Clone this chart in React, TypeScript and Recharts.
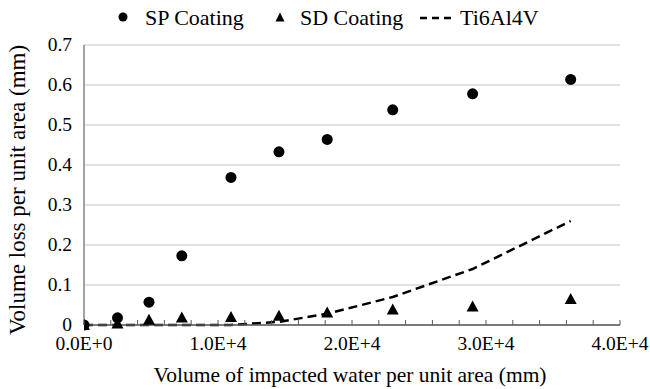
import React from 'react';
import { ComposedChart, Scatter, Line, XAxis, YAxis, CartesianGrid } from 'recharts';

const xValues = [0, 2500, 4850, 7300, 10970, 14550, 18150, 23040, 29000, 36320];
const spCoating = [0, 0.018, 0.057, 0.173, 0.369, 0.433, 0.464, 0.538, 0.578, 0.614];
const sdCoating = [0, 0.004, 0.013, 0.019, 0.02, 0.023, 0.031, 0.039, 0.046, 0.065];
const ti6al4v = [0, 0, 0, 0, 0, 0.008, 0.028, 0.07, 0.14, 0.26];
const xTicks = [0, 2000, 4000, 6000, 8000, 10000, 12000, 14000, 16000, 18000, 20000, 22000, 24000, 26000, 28000, 30000, 32000, 34000, 36000, 38000, 40000];
const yTicks = [0, 0.1, 0.2, 0.3, 0.4, 0.5, 0.6, 0.7];
const seriesNames = ['SP Coating', 'SD Coating', 'Ti6Al4V'];
const xTitle = 'Volume of impacted water per unit area (mm)';
const yTitle = 'Volume loss per unit area (mm)';

const spData = xValues.map((x, i) => ({ x, y: spCoating[i] }));
const sdData = xValues.map((x, i) => ({ x, y: sdCoating[i] }));
const tiData = xValues.map((x, i) => ({ x, y: ti6al4v[i] }));

const FONT = 'Liberation Serif';

const fmtX = (v: number) => {
  if (v === 0) return '0.0E+0';
  const exp = Math.floor(Math.log10(v));
  const m = v / Math.pow(10, exp);
  return `${m.toFixed(1)}E+${exp}`;
};

const XTick = (props: any) => {
  const { x, y, payload } = props;
  const major = payload.value % 10000 === 0;
  return (
    <g>
      <line x1={x} x2={x} y1={y} y2={y - 5} stroke="#595959" strokeWidth={1} />
      {major && (
        <text x={x} y={y + 25} textAnchor="middle" style={{ fontFamily: FONT, fontSize: 19.5 }} fill="#000">
          {fmtX(payload.value)}
        </text>
      )}
    </g>
  );
};

const YTick = (props: any) => {
  const { x, y, payload } = props;
  const label = payload.value === 0 ? '0' : payload.value.toFixed(1);
  return (
    <text x={x} y={y + 6} textAnchor="end" style={{ fontFamily: FONT, fontSize: 19.5 }} fill="#000">
      {label}
    </text>
  );
};

const Circle = (props: any) => {
  const { cx, cy } = props;
  return <circle cx={cx} cy={cy} r={5.5} fill="#000" />;
};

const Triangle = (props: any) => {
  const { cx, cy } = props;
  return <path d={`M${cx},${cy - 6} L${cx + 6},${cy + 5} L${cx - 6},${cy + 5} Z`} fill="#000" />;
};

const LegendBox = () => (
  <svg
    width={650}
    height={40}
    style={{ position: 'absolute', left: 0, top: 0 }}
  >
    <circle cx={123} cy={17} r={4.5} fill="#000" />
    <text x={145} y={25} style={{ fontFamily: FONT, fontSize: 22 }} fill="#000">
      {seriesNames[0]}
    </text>
    <path d="M280,12.5 L284.5,21.5 L275.5,21.5 Z" fill="#000" />
    <text x={300} y={25} style={{ fontFamily: FONT, fontSize: 22 }} fill="#000">
      {seriesNames[1]}
    </text>
    <line x1={420} x2={451} y1={18} y2={18} stroke="#000" strokeWidth={2.5} strokeDasharray="7 5" />
    <text x={460} y={25} style={{ fontFamily: FONT, fontSize: 22 }} fill="#000">
      {seriesNames[2]}
    </text>
  </svg>
);

export default function App() {
  return (
    <div style={{ position: 'absolute', left: 0, top: 0, width: 650, height: 389, background: '#fff' }}>
      <ComposedChart width={650} height={389} margin={{ top: 45, right: 30, bottom: 34, left: 0 }}>
        <CartesianGrid horizontal vertical={false} stroke="#d9d9d9" strokeWidth={1.5} />
        <XAxis
          type="number"
          dataKey="x"
          height={30}
          domain={[0, 40000]}
          ticks={xTicks}
          interval={0}
          tickSize={0}
          tickMargin={0}
          tickLine={false}
          tick={<XTick />}
          axisLine={{ stroke: '#595959', strokeWidth: 1.5 }}
          allowDataOverflow
          label={{
            content: () => (
              <text x={350} y={382} textAnchor="middle" style={{ fontFamily: FONT, fontSize: 21.5 }} fill="#000">
                {xTitle}
              </text>
            ),
          }}
        />
        <YAxis
          type="number"
          dataKey="y"
          width={84}
          domain={[0, 0.7]}
          ticks={yTicks}
          interval={0}
          tickSize={0}
          tickMargin={12}
          tickLine={false}
          tick={<YTick />}
          axisLine={{ stroke: '#868686', strokeWidth: 1.5 }}
          label={{
            content: () => (
              <text
                x={25}
                y={190}
                transform="rotate(-90 25 190)"
                textAnchor="middle"
                style={{ fontFamily: FONT, fontSize: 23 }}
                fill="#000"
              >
                {yTitle}
              </text>
            ),
          }}
        />
        <Line
          data={tiData}
          dataKey="y"
          name={seriesNames[2]}
          type="linear"
          stroke="#000"
          strokeWidth={2.5}
          strokeDasharray="9 5"
          dot={false}
          activeDot={false}
          isAnimationActive={false}
        />
        <Scatter data={sdData} dataKey="y" name={seriesNames[1]} shape={<Triangle />} isAnimationActive={false} />
        <Scatter data={spData} dataKey="y" name={seriesNames[0]} shape={<Circle />} isAnimationActive={false} />
      </ComposedChart>
      <LegendBox />
    </div>
  );
}
